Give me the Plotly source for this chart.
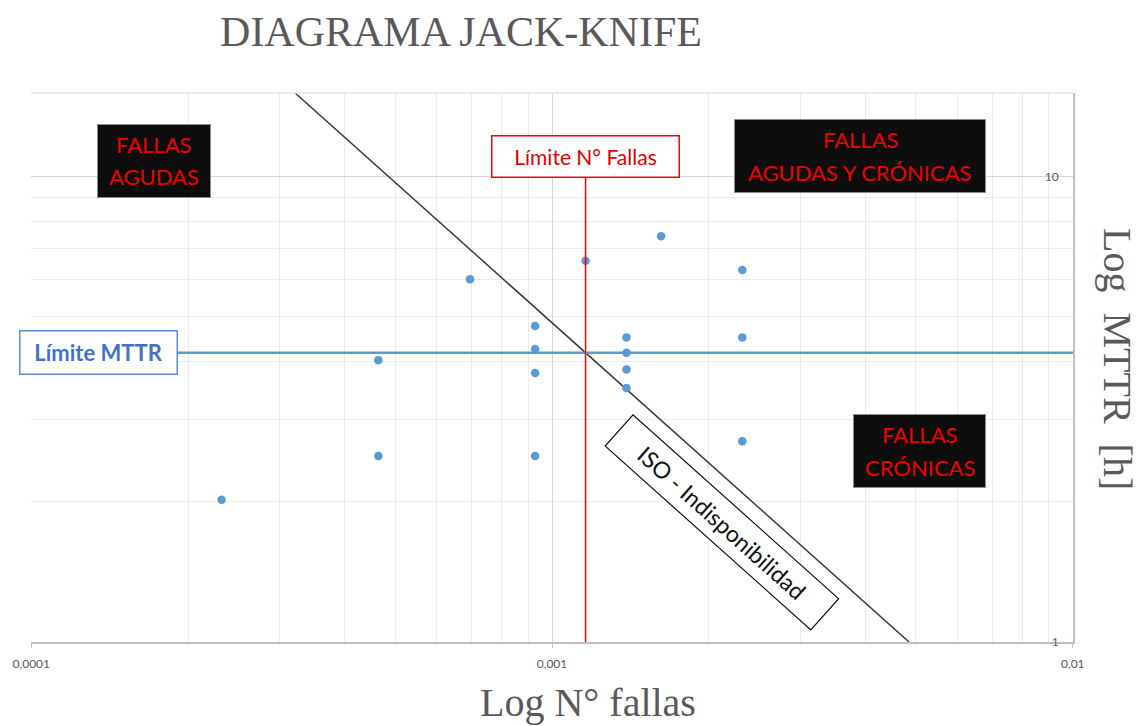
import numpy as np
import plotly.graph_objects as go

# Failure frequency (N° fallas per hour) and mean time to repair (h) per equipment
N_FALLAS = [0.000232, 0.000464, 0.000464, 0.000696, 0.000928, 0.000928, 0.000928,
            0.000928, 0.00116, 0.00139, 0.00139, 0.00139, 0.00139, 0.00162,
            0.00232, 0.00232, 0.00232]
MTTR = [2.02, 4.03, 2.51, 6.01, 4.77, 4.26, 3.78,
        2.51, 6.59, 4.51, 4.18, 3.85, 3.51, 7.44,
        6.29, 4.51, 2.70]

# Threshold values
LIMITE_N = 0.00116
LIMITE_MTTR = 4.18

# Axis limits and tick labels
X_RANGE = [0.0001, 0.01]
Y_RANGE = [1, 15.1]
X_TICKS = [0.0001, 0.001, 0.01]
X_TICKTEXT = ["0,0001", "0,001", "0,01"]
Y_TICKS = [1, 10]
Y_TICKTEXT = ["1", "10"]

SERIF = "Liberation Serif, Times New Roman, serif"
SANS = "Lato, Carlito, Calibri, sans-serif"
GREY_TXT = "#595959"
RED = "#f00000"
BLUE = "#5b9bd5"

fig = go.Figure()

# Iso-unavailability curve: N * MTTR = constant through the threshold crossing
iso_const = LIMITE_N * LIMITE_MTTR
iso_y = np.array([Y_RANGE[1], Y_RANGE[0]])
iso_x = iso_const / iso_y
fig.add_trace(go.Scatter(x=iso_x, y=iso_y, mode="lines",
                         line=dict(color="#3a3a3a", width=1.5),
                         hoverinfo="skip", showlegend=False))

# MTTR threshold (horizontal) and failure-count threshold (vertical)
fig.add_shape(type="line", xref="x domain", yref="y", x0=0, x1=1,
              y0=LIMITE_MTTR, y1=LIMITE_MTTR, line=dict(color=BLUE, width=2.5))
fig.add_shape(type="line", xref="x", yref="y domain", x0=LIMITE_N, x1=LIMITE_N,
              y0=0, y1=0.9, line=dict(color="#ff0000", width=1.5))

# Equipment points
fig.add_trace(go.Scatter(x=N_FALLAS, y=MTTR, mode="markers",
                         marker=dict(color=BLUE, size=8.5),
                         showlegend=False))

minor_x = [m * 10.0 ** e for e in (-4, -3) for m in range(2, 10)]
minor_y = [float(m) for m in range(2, 10)]

fig.update_xaxes(type="log",
                 range=[np.log10(X_RANGE[0]) - 0.0005, np.log10(X_RANGE[1]) + 0.0005],
                 tickmode="array", tickvals=X_TICKS, ticktext=X_TICKTEXT,
                 tickfont=dict(family=SANS, size=12, color=GREY_TXT),
                 ticks="outside", ticklen=4, tickcolor="#bfbfbf",
                 ticklabelstandoff=6,
                 showgrid=True, gridcolor="#d4d4d4", gridwidth=1,
                 minor=dict(tickmode="array", tickvals=minor_x, showgrid=True,
                            gridcolor="#ebebeb", gridwidth=1),
                 showline=True, linecolor="#bfbfbf", linewidth=1.5,
                 zeroline=False)
fig.update_yaxes(type="log", range=[np.log10(Y_RANGE[0]), np.log10(Y_RANGE[1])],
                 side="right", ticklabelposition="inside",
                 ticklabeloverflow="allow", ticklabelstandoff=14,
                 tickmode="array", tickvals=Y_TICKS, ticktext=Y_TICKTEXT,
                 tickfont=dict(family=SANS, size=12, color=GREY_TXT),
                 showgrid=True, gridcolor="#d4d4d4", gridwidth=1,
                 minor=dict(tickmode="array", tickvals=minor_y, showgrid=True,
                            gridcolor="#ebebeb", gridwidth=1),
                 showline=True, linecolor="#bfbfbf", linewidth=1.5,
                 zeroline=False)

# Top edge of the plot area
fig.add_shape(type="line", xref="x domain", yref="y domain", x0=0, x1=1, y0=1, y1=1,
              line=dict(color="#e3e3e3", width=1.5))

annotations = []

# Threshold labels
annotations.append(dict(text="<b>Límite MTTR</b>", xref="paper", yref="y",
                        x=0.0643, y=np.log10(LIMITE_MTTR), showarrow=False,
                        xanchor="center", yanchor="middle",
                        font=dict(family=SANS, size=22, color="#4472c4"),
                        bgcolor="white", bordercolor="#5b8bd0", borderwidth=1.5,
                        width=154, height=40, borderpad=1))
annotations.append(dict(text="Límite N° Fallas", xref="x", yref="paper",
                        x=np.log10(LIMITE_N), y=0.884, showarrow=False,
                        xanchor="center", yanchor="middle",
                        font=dict(family=SANS, size=21, color="#e00000"),
                        bgcolor="white", bordercolor="#ff0000", borderwidth=1.5,
                        width=184, height=38, borderpad=1))

# Quadrant labels: black boxes with red two-line text
quadrants = [
    (0.118, 0.877, 114, ["FALLAS", "AGUDAS"]),
    (0.796, 0.886, 252, ["FALLAS", "AGUDAS Y CRÓNICAS"]),
    (0.853, 0.3475, 133, ["FALLAS", "CRÓNICAS"]),
]
for qx, qy, qw, lines in quadrants:
    annotations.append(dict(text=" ", xref="paper", yref="paper", x=qx, y=qy,
                            xanchor="center", yanchor="middle",
                            showarrow=False, bgcolor="#0d0d0d",
                            bordercolor="#8c8c8c", borderwidth=1,
                            width=qw - 2, height=72, borderpad=0))
    for i, line in enumerate(lines):
        annotations.append(dict(text=line, xref="paper", yref="paper",
                                x=qx, y=qy + (0.030 if i == 0 else -0.030),
                                xanchor="center", yanchor="middle",
                                showarrow=False,
                                font=dict(family=SANS, size=22, color=RED)))

# Label along the iso-unavailability line
annotations.append(dict(text="ISO - Indisponibilidad", xref="paper", yref="paper",
                        x=0.663, y=0.2168, showarrow=False, textangle=41.8,
                        xanchor="center", yanchor="middle",
                        font=dict(family=SANS, size=23, color="#111111"),
                        bgcolor="white", bordercolor="#111111", borderwidth=1.2,
                        width=273, height=39, borderpad=1))

# Axis titles
annotations.append(dict(text="Log N° fallas", xref="paper", yref="paper",
                        x=0.5345, y=-0.110, xanchor="center", yanchor="middle",
                        showarrow=False,
                        font=dict(family=SERIF, size=40, color=GREY_TXT)))
annotations.append(dict(text="Log  MTTR  [h]", xref="paper", yref="paper",
                        x=1.0422, y=0.5155, showarrow=False, textangle=90,
                        xanchor="center", yanchor="middle",
                        font=dict(family=SERIF, size=40, color=GREY_TXT)))

fig.update_layout(
    width=1145, height=726,
    margin=dict(l=31, r=72, t=93, b=84),
    paper_bgcolor="white", plot_bgcolor="white",
    title=dict(text="DIAGRAMA JACK-KNIFE", x=0.4026, xanchor="center",
               y=0.957, yanchor="middle",
               font=dict(family=SERIF, size=42, color=GREY_TXT)),
    annotations=annotations,
    showlegend=False,
)

fig.write_html("out.html")
